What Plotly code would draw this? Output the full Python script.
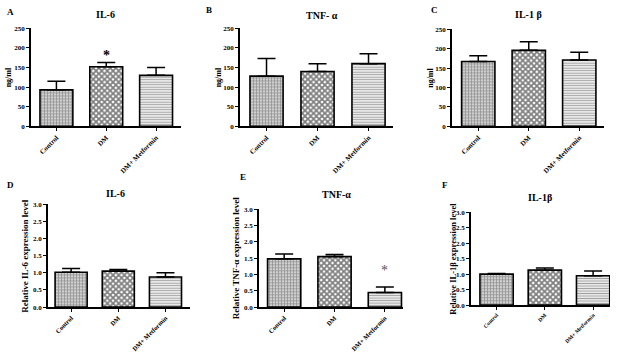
import plotly.graph_objects as go

groups = ["Control", "DM", "DM+ Metformin"]

# Top row: protein levels (ng/ml)
il6_ng = [93, 152, 130]
il6_ng_err = [22, 11, 20]
tnf_ng = [128, 140, 160]
tnf_ng_err = [45, 20, 25]
il1b_ng = [167, 196, 171]
il1b_ng_err = [15, 22, 20]

# Bottom row: relative mRNA expression
il6_rel = [1.02, 1.05, 0.88]
il6_rel_err = [0.11, 0.05, 0.12]
tnf_rel = [1.48, 1.55, 0.45]
tnf_rel_err = [0.15, 0.06, 0.17]
il1b_rel = [1.00, 1.13, 0.95]
il1b_rel_err = [0.02, 0.07, 0.15]

top_ticks = [0, 50, 100, 150, 200, 250]
bot_ticks = [0.0, 0.5, 1.0, 1.5, 2.0, 2.5, 3.0]

W, H = 618, 359
FONT = "Liberation Serif"

def px(x):
    return x / W

def py(y):
    return 1 - y / H

panels = [
    dict(v=il6_ng, e=il6_ng_err, xp=(31, 181), yp=(25, 125), xr=[-0.51, 2.5], yr=[0, 250], t=top_ticks,
         bw=0.66, title="IL-6", tpos=(105, 11), letter="A", lpos=(5, 8), yt="ng/ml", ytx=8, fmt=None, xfs=7, yts=8),
    dict(v=tnf_ng, e=tnf_ng_err, xp=(240, 393), yp=(25, 125), xr=[-0.52, 2.48], yr=[0, 250], t=top_ticks,
         bw=0.65, title="TNF- α", tpos=(322, 12), letter="B", lpos=(204, 6), yt="ng/ml", ytx=218, fmt=None, xfs=7, yts=8),
    dict(v=il1b_ng, e=il1b_ng_err, xp=(452, 604), yp=(26, 125), xr=[-0.52, 2.49], yr=[0, 250], t=top_ticks,
         bw=0.66, title="IL-1 β", tpos=(528, 11), letter="C", lpos=(429, 6), yt="ng/ml", ytx=431, fmt=None, xfs=7, yts=8),
    dict(v=il6_rel, e=il6_rel_err, xp=(48, 190), yp=(205, 310), xr=[-0.49, 2.52], yr=[0, 3], t=bot_ticks,
         bw=0.68, title="IL-6", tpos=(115, 194), letter="D", lpos=(5, 185), yt="Relative IL-6 expression level", ytx=25, fmt=".1f", xfs=6.5, yts=9),
    dict(v=tnf_rel, e=tnf_rel_err, xp=(259, 403), yp=(210, 310), xr=[-0.5, 2.36], yr=[0, 3], t=bot_ticks,
         bw=0.66, title="TNF-α", tpos=(336, 195), letter="E", lpos=(238, 177), yt="Relative TNF-α expression level", ytx=236, fmt=".1f", xfs=6.5, yts=9),
    dict(v=il1b_rel, e=il1b_rel_err, xp=(471, 610), yp=(213, 308), xr=[-0.53, 2.35], yr=[0, 3], t=bot_ticks,
         bw=0.69, title="IL-1β", tpos=(540, 198), letter="F", lpos=(440, 185), yt="Relative IL-1β expression level", ytx=453, fmt=".1f", xfs=5.5, yts=8.5),
]

patterns = [
    dict(shape="+", fgcolor="#444444", bgcolor="#d0d0d0", size=3, solidity=0.4),
    dict(shape="x", fgcolor="black", bgcolor="white", size=4, solidity=0.68),
    dict(shape="-", fgcolor="#444444", bgcolor="white", size=2.5, solidity=0.5),
]

fig = go.Figure()
annotations = []
layout = {}

for i, p in enumerate(panels):
    n = "" if i == 0 else str(i + 1)
    xa, ya = "x" + n, "y" + n
    for j, g in enumerate(groups):
        fig.add_trace(go.Bar(
            x=[j], y=[p["v"][j]], width=p["bw"], xaxis=xa, yaxis=ya,
            marker=dict(color="white", line=dict(color="black", width=1.6), pattern=patterns[j]),
            error_y=dict(type="data", symmetric=False, array=[p["e"][j]], arrayminus=[0],
                         color="black", thickness=1.5, width=9),
            showlegend=False, hoverinfo="skip",
        ))
    layout["xaxis" + n] = dict(
        domain=[px(p["xp"][0]), px(p["xp"][1])], anchor=ya, range=p["xr"],
        tickmode="array", tickvals=[0, 1, 2], ticktext=groups, tickangle=-45,
        ticks="outside", ticklen=3, tickwidth=1, tickcolor="black",
        showline=True, linecolor="black", linewidth=1.5, showgrid=False, zeroline=False,
        tickfont=dict(family=FONT, size=p["xfs"], color="black", weight="bold"),
    )
    layout["yaxis" + n] = dict(
        domain=[py(p["yp"][1]), py(p["yp"][0])], anchor=xa, range=p["yr"],
        tickmode="array", tickvals=p["t"], tickformat=p["fmt"],
        ticks="outside", ticklen=3, tickwidth=1, tickcolor="black",
        showline=True, linecolor="black", linewidth=1.5, showgrid=False, zeroline=False,
        tickfont=dict(family=FONT, size=7, color="black", weight="bold"),
    )
    annotations.append(dict(text=p["title"], x=px(p["tpos"][0]), y=py(p["tpos"][1]), xref="paper", yref="paper",
                            showarrow=False, xanchor="center", yanchor="middle",
                            font=dict(family=FONT, size=10, color="black", weight="bold")))
    annotations.append(dict(text=p["letter"], x=px(p["lpos"][0]), y=py(p["lpos"][1]), xref="paper", yref="paper",
                            showarrow=False, xanchor="left", yanchor="middle",
                            font=dict(family=FONT, size=9, color="black", weight="bold")))
    ymid = (p["yp"][0] + p["yp"][1]) / 2
    annotations.append(dict(text=p["yt"], x=px(p["ytx"]), y=py(ymid), xref="paper", yref="paper",
                            showarrow=False, textangle=-90, xanchor="center", yanchor="middle",
                            font=dict(family=FONT, size=p["yts"], color="black", weight="bold")))

# significance asterisks
annotations.append(dict(text="*", x=1, y=182, xref="x", yref="y", showarrow=False,
                        font=dict(family=FONT, size=14, color="black", weight="bold")))
annotations.append(dict(text="*", x=2, y=1.12, xref="x5", yref="y5", showarrow=False,
                        font=dict(family=FONT, size=14, color="#555555")))

fig.update_layout(
    width=W, height=H, margin=dict(l=0, r=0, t=0, b=0),
    plot_bgcolor="white", paper_bgcolor="white", barmode="overlay",
    annotations=annotations, **layout,
)

fig.write_html("out.html", config={"displayModeBar": False},
               post_script="document.body.style.margin='0';document.body.style.overflow='hidden';")
